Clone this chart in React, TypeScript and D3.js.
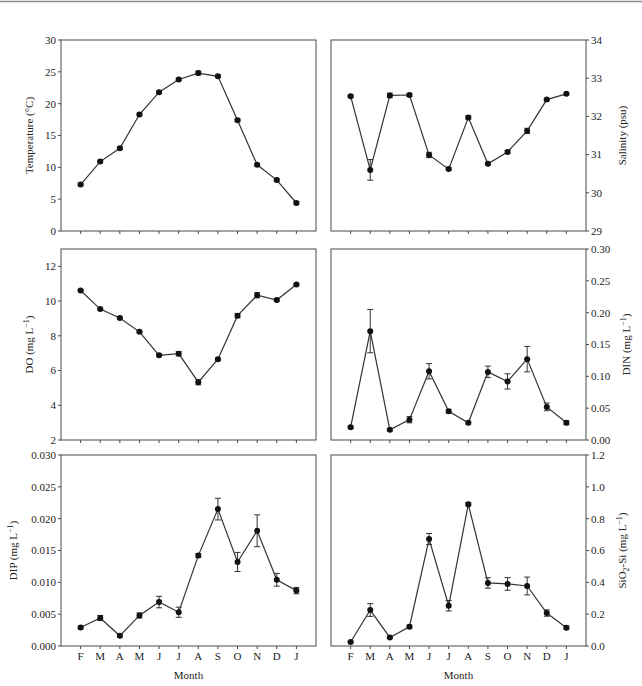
import React from "react";
import * as d3 from "d3";

const months = ["F", "M", "A", "M", "J", "J", "A", "S", "O", "N", "D", "J"];

const tempMean = [7.3, 10.9, 13.0, 18.3, 21.8, 23.8, 24.8, 24.3, 17.4, 10.4, 8.0, 4.4];
const tempErr = [0.2, 0.2, 0.2, 0.2, 0.2, 0.2, 0.3, 0.2, 0.2, 0.2, 0.2, 0.2];

const salMean = [32.53, 30.6, 32.55, 32.56, 30.99, 30.62, 31.97, 30.76, 31.07, 31.62, 32.44, 32.59];
const salErr = [0.03, 0.27, 0.06, 0.04, 0.07, 0.03, 0.04, 0.03, 0.04, 0.07, 0.03, 0.03];

const doMean = [10.61, 9.54, 9.03, 8.23, 6.88, 6.97, 5.33, 6.65, 9.16, 10.34, 10.06, 10.95];
const doErr = [0.05, 0.05, 0.05, 0.05, 0.08, 0.12, 0.15, 0.08, 0.12, 0.15, 0.08, 0.05];

const dinMean = [0.02, 0.171, 0.016, 0.032, 0.108, 0.045, 0.027, 0.107, 0.092, 0.127, 0.052, 0.027];
const dinErr = [0.002, 0.034, 0.002, 0.005, 0.012, 0.003, 0.002, 0.009, 0.012, 0.02, 0.006, 0.003];

const dipMean = [0.0029, 0.0044, 0.0016, 0.0048, 0.0069, 0.0053, 0.0142, 0.0215, 0.0132, 0.0181, 0.0104, 0.0087];
const dipErr = [0.0002, 0.0004, 0.0002, 0.0004, 0.0009, 0.0008, 0.0003, 0.0017, 0.0015, 0.0025, 0.001, 0.0005];

const siMean = [0.025, 0.226, 0.054, 0.121, 0.672, 0.253, 0.89, 0.396, 0.39, 0.377, 0.207, 0.115];
const siErr = [0.005, 0.04, 0.006, 0.01, 0.035, 0.033, 0.01, 0.033, 0.04, 0.056, 0.02, 0.01];

const tempTicks = [0, 5, 10, 15, 20, 25, 30];
const salTicks = [29, 30, 31, 32, 33, 34];
const doTicks = [2, 4, 6, 8, 10, 12];
const dinTicks = [0, 0.05, 0.1, 0.15, 0.2, 0.25, 0.3];
const dipTicks = [0, 0.005, 0.01, 0.015, 0.02, 0.025, 0.03];
const siTicks = [0, 0.2, 0.4, 0.6, 0.8, 1.0, 1.2];

const FONT = "'Liberation Serif', 'DejaVu Serif', serif";
const FRAME = "#4a4a4a";
const LINE = "#333";

type PanelProps = {
  x0: number;
  y0: number;
  w: number;
  h: number;
  domain: [number, number];
  ticks: number[];
  fmt: string;
  side: "left" | "right";
  mean: number[];
  err: number[];
  title: React.ReactNode;
  titleX: number;
  showMonths: boolean;
};

function Panel(p: PanelProps) {
  const x = d3.scaleLinear().domain([0, 13]).range([p.x0, p.x0 + p.w]);
  const y = d3.scaleLinear().domain(p.domain).range([p.y0 + p.h, p.y0]);
  const f = d3.format(p.fmt);
  const pts: [number, number][] = p.mean.map((v, i) => [x(i + 1), y(v)]);
  const line = d3.line()(pts) || "";
  const axisX = p.side === "left" ? p.x0 : p.x0 + p.w;
  const tickDir = p.side === "left" ? -1 : 1;
  const bottom = p.y0 + p.h;
  const cy = p.y0 + p.h / 2;
  return (
    <g>
      <rect x={p.x0} y={p.y0} width={p.w} height={p.h} fill="none" stroke={FRAME} strokeWidth={1} />
      {p.ticks.map((t) => (
        <g key={"yt" + t}>
          <line x1={axisX} x2={axisX + tickDir * 3} y1={y(t)} y2={y(t)} stroke={FRAME} />
          <text
            x={axisX + tickDir * 5}
            y={y(t)}
            dy="0.35em"
            textAnchor={p.side === "left" ? "end" : "start"}
            fontSize={11}
            fontFamily={FONT}
            fill="#222"
          >
            {f(t)}
          </text>
        </g>
      ))}
      {months.map((m, i) => (
        <g key={"xt" + i}>
          <line x1={x(i + 1)} x2={x(i + 1)} y1={bottom} y2={bottom + 3} stroke={FRAME} />
          {p.showMonths && (
            <text x={x(i + 1)} y={bottom + 14} textAnchor="middle" fontSize={11} fontFamily={FONT} fill="#222">
              {m}
            </text>
          )}
        </g>
      ))}
      {p.showMonths && (
        <text x={p.x0 + p.w / 2} y={bottom + 33} textAnchor="middle" fontSize={11} fontFamily={FONT} fill="#222">
          Month
        </text>
      )}
      <text
        transform={`translate(${p.titleX},${cy}) rotate(-90)`}
        textAnchor="middle"
        dy="0.35em"
        fontSize={11}
        fontFamily={FONT}
        fill="#222"
      >
        {p.title}
      </text>
      <path d={line} fill="none" stroke={LINE} strokeWidth={1.2} />
      {p.mean.map((v, i) => {
        const xi = x(i + 1);
        const yt = y(v + p.err[i]);
        const yb = y(v - p.err[i]);
        return (
          <g key={"eb" + i} stroke={LINE} strokeWidth={1}>
            <line x1={xi} x2={xi} y1={yt} y2={yb} />
            <line x1={xi - 3} x2={xi + 3} y1={yt} y2={yt} />
            <line x1={xi - 3} x2={xi + 3} y1={yb} y2={yb} />
          </g>
        );
      })}
      {pts.map(([px, py], i) => (
        <circle key={"pt" + i} cx={px} cy={py} r={3} fill="#111" />
      ))}
    </g>
  );
}

const sup = (s: string) => (
  <tspan fontSize={8} dy={-4}>
    {s}
  </tspan>
);

export default function App() {
  const L = 61;
  const R = 331;
  const W = 255;
  const rows = [40, 249, 455];
  const H = 191;
  return (
    <svg width={642} height={686} style={{ position: "absolute", left: 0, top: 0, background: "#fff" }}>
      <rect x={0} y={0} width={642} height={686} fill="#fff" />
      <line x1={0} x2={642} y1={1.5} y2={1.5} stroke="#8a8a8a" strokeWidth={1.5} />
      <Panel x0={L} y0={rows[0]} w={W} h={H} domain={[0, 30]} ticks={tempTicks} fmt="d" side="left"
        mean={tempMean} err={tempErr} title={"Temperature (°C)"} titleX={29} showMonths={false} />
      <Panel x0={R} y0={rows[0]} w={W} h={H} domain={[29, 34]} ticks={salTicks} fmt="d" side="right"
        mean={salMean} err={salErr} title={"Salinity (psu)"} titleX={622} showMonths={false} />
      <Panel x0={L} y0={rows[1]} w={W} h={H} domain={[2, 13]} ticks={doTicks} fmt="d" side="left"
        mean={doMean} err={doErr}
        title={<>{"DO (mg L"}{sup("−1")}<tspan dy={4}>)</tspan></>} titleX={29} showMonths={false} />
      <Panel x0={R} y0={rows[1]} w={W} h={H} domain={[0, 0.3]} ticks={dinTicks} fmt=".2f" side="right"
        mean={dinMean} err={dinErr}
        title={<>{"DIN (mg L"}{sup("−1")}<tspan dy={4}>)</tspan></>} titleX={626} showMonths={false} />
      <Panel x0={L} y0={rows[2]} w={W} h={H} domain={[0, 0.03]} ticks={dipTicks} fmt=".3f" side="left"
        mean={dipMean} err={dipErr}
        title={<>{"DIP (mg L"}{sup("−1")}<tspan dy={4}>)</tspan></>} titleX={13} showMonths={true} />
      <Panel x0={R} y0={rows[2]} w={W} h={H} domain={[0, 1.2]} ticks={siTicks} fmt=".1f" side="right"
        mean={siMean} err={siErr}
        title={<>{"SiO"}<tspan fontSize={8} dy={3}>2</tspan><tspan dy={-3}>{"-Si (mg L"}</tspan>{sup("−1")}<tspan dy={4}>)</tspan></>}
        titleX={622} showMonths={true} />
    </svg>
  );
}
